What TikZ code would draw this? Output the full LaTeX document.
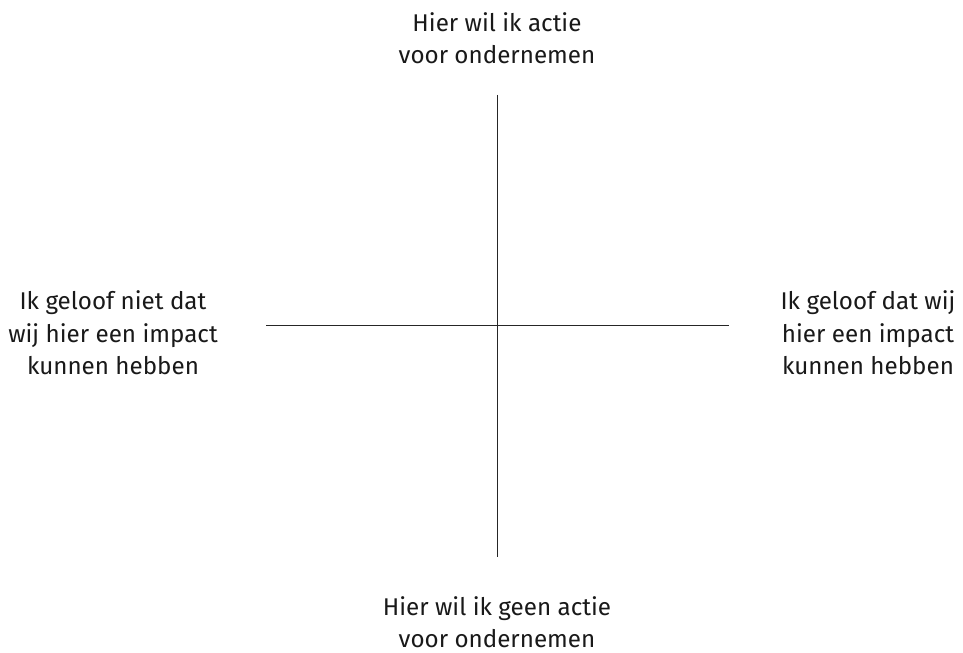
\documentclass[tikz,border=0pt]{standalone}
\usepackage{fontspec}
\setmainfont{Fira Sans}
\begin{document}
\begin{tikzpicture}[x=1bp,y=-1bp,
  lbl/.style={align=center,inner sep=0pt,font=\fontsize{24.2bp}{32.5bp}\selectfont,text=black!90},
  axis/.style={draw=black!85,line width=0.9bp}]
\useasboundingbox[fill=white] (0,0) rectangle (963,653);
\coordinate (T) at (497,95);
\coordinate (B) at (497,557);
\coordinate (L) at (266,325);
\coordinate (R) at (729,325);
\draw[axis] (T) -- (B);
\draw[axis] (L) -- (R);
\node[lbl] (top) at (497,38) {Hier wil ik actie\\voor ondernemen};
\node[lbl] (bot) at (497,622) {Hier wil ik geen actie\\voor ondernemen};
\node[lbl] (left) at (113,333) {Ik geloof niet dat\\wij hier een impact\\kunnen hebben};
\node[lbl] (right) at (868,333) {Ik geloof dat wij\\hier een impact\\kunnen hebben};
\end{tikzpicture}
\end{document}
